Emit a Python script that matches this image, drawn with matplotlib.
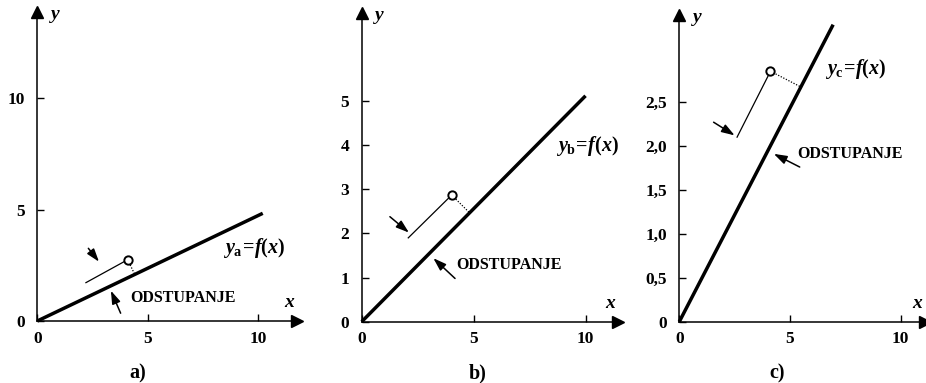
import numpy as np
import matplotlib
matplotlib.use('Agg')
import matplotlib.pyplot as plt

plt.rcParams['font.family'] = 'Liberation Serif'
plt.rcParams['font.weight'] = 'bold'
plt.rcParams['mathtext.fontset'] = 'custom'
plt.rcParams['mathtext.rm'] = 'Liberation Serif:bold'
plt.rcParams['mathtext.it'] = 'Liberation Serif:italic:bold'
plt.rcParams['mathtext.bf'] = 'Liberation Serif:bold'

W, H = 926, 383

# panel data: line end, measured point, start of thin line, arrows
captions = ['a)', 'b)', 'c)']
sub = ['a', 'b', 'c']
xmax = [11.75, 11.45, 11.1]
ymax = [13.86, 6.99, 3.49]
x_ticks = [[0, 5, 10], [0, 5, 10], [0, 5, 10]]
y_ticks = [[0, 5, 10], [0, 1, 2, 3, 4, 5], [0, 0.5, 1.0, 1.5, 2.0, 2.5]]
y_ticklabels = [['0', '5', '10'],
                ['0', '1', '2', '3', '4', '5'],
                ['0', '0,5', '1,0', '1,5', '2,0', '2,5']]
line_end = [(10.2, 4.83), (10.0, 5.12), (6.95, 3.38)]
point = [(4.09, 2.75), (4.02, 2.87), (4.12, 2.85)]
thin_start = [(2.2, 1.72), (2.08, 1.9), (2.61, 2.10)]
arrow1 = [((2.31, 3.26), (2.79, 2.66)),
          ((1.26, 2.38), (2.11, 2.02)),
          ((1.55, 2.27), (2.50, 2.12))]
arrow2 = [((3.77, 0.35), (3.33, 1.36)),
          ((4.17, 0.98), (3.20, 1.44)),
          ((5.44, 1.76), (4.27, 1.91))]
odst_pos = [(4.2, 1.03), (4.21, 1.29), (5.34, 1.91)]
func_pos = [(8.4, 3.27), (8.7, 3.99), (6.58, 2.88)]

# axes boxes in pixels: left, right, top, bottom (origin at bottom-left corner)
boxes = [(37.3, 297, 12, 321), (361.7, 618, 13.3, 321.7), (679.3, 925, 15, 321.7)]
cap_x = [138, 478, 777]

fig = plt.figure(figsize=(W / 100, H / 100), dpi=100)

for i in range(3):
    l, r, t, b = boxes[i]
    ax = fig.add_axes([l / W, 1 - b / H, (r - l) / W, (b - t) / H])
    ax.set_xlim(0, xmax[i])
    ax.set_ylim(0, ymax[i])
    for s in ['top', 'right']:
        ax.spines[s].set_visible(False)
    for s in ['left', 'bottom']:
        ax.spines[s].set_linewidth(1.1)
    ax.set_xticks(x_ticks[i])
    ax.set_xticklabels([str(v) for v in x_ticks[i]])
    ax.set_yticks(y_ticks[i])
    ax.set_yticklabels(y_ticklabels[i])
    ax.tick_params(direction='in', length=5, width=1, labelsize=12.5)
    ax.tick_params(axis='y', pad=9)
    ax.tick_params(axis='x', pad=7)
    ax.patch.set_alpha(0)

    # arrow heads on axes
    ax.plot(1, 0, '>', color='k', markersize=8, transform=ax.transAxes, clip_on=False)
    ax.plot(0, 1, '^', color='k', markersize=8, transform=ax.transAxes, clip_on=False)
    ax.annotate('$x$', xy=(1, 0), xycoords='axes fraction', xytext=(-5, 13),
                textcoords='offset points', fontsize=14, ha='center', va='center')
    ax.annotate('$y$', xy=(0, 1), xycoords='axes fraction', xytext=(13, -3),
                textcoords='offset points', fontsize=14, ha='center', va='center')

    # function line
    xe, ye = line_end[i]
    ax.plot([0, xe], [0, ye], color='k', lw=2.5, solid_capstyle='butt', clip_on=False)

    # perpendicular foot from the point onto the line (display space)
    fig.canvas.draw()
    T = ax.transData
    O = T.transform((0, 0))
    E = T.transform((xe, ye))
    P = T.transform(point[i])
    d = E - O
    foot = O + np.dot(P - O, d) / np.dot(d, d) * d
    fx, fy = T.inverted().transform(foot)

    px, py = point[i]
    ax.plot([px, fx], [py, fy], color='k', lw=0.9, ls=(0, (1, 1.3)))
    ax.plot([thin_start[i][0], px], [thin_start[i][1], py], color='k', lw=0.9)
    ax.plot(px, py, 'o', mfc='white', mec='k', mew=1.4, markersize=6, zorder=5)

    for tail, head in [arrow1[i], arrow2[i]]:
        ax.annotate('', xy=head, xytext=tail,
                    arrowprops=dict(arrowstyle='-|>,head_length=0.6,head_width=0.2',
                                    color='k', lw=1.1, shrinkA=0, shrinkB=0,
                                    mutation_scale=13))

    ax.text(*odst_pos[i], 'ODSTUPANJE', fontsize=11.5, ha='left', va='center')
    ax.text(*func_pos[i], r'$y_{\mathrm{%s}}\!=\!f(x)$' % sub[i], fontsize=14.5,
            ha='left', va='center')

    fig.text(cap_x[i] / W, 1 - 373 / H, captions[i], fontsize=14.5,
             ha='center', va='center')

fig.savefig('out.png', dpi=100)
